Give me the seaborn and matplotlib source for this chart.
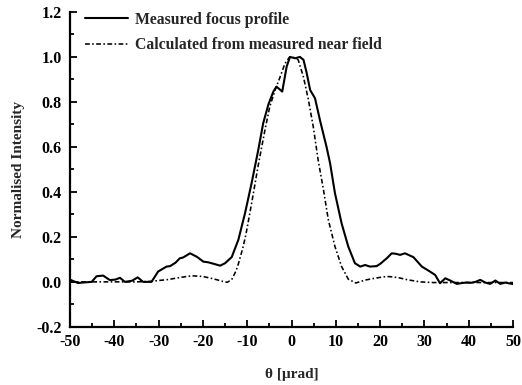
import matplotlib
matplotlib.use("Agg")
import matplotlib.pyplot as plt
from matplotlib.ticker import MultipleLocator
import seaborn as sns
import pandas as pd

# Measured far-field focus profile
theta_measured = [-50, -48.2, -46.5, -45.1, -44, -42.5, -41, -39.8, -38.7, -37.6,
                  -36, -34.7, -33.5, -31.6, -30.1, -28.2, -27.4, -26.2, -25.2, -24.5,
                  -22.9, -21.4, -19.9, -18.8, -17.5, -16.1, -15.0, -13.5, -12.0, -10.5,
                  -9.0, -7.5, -6.4, -5.2, -4.1, -3.4, -2.1, -1.1, -0.35, 0.8,
                  1.9, 2.7, 3.4, 4.2, 5.3, 6.4, 7.9, 8.7, 9.8, 11.3,
                  12.8, 14.3, 15.5, 16.6, 17.7, 19.2, 20.0, 21.5, 22.6, 23.5,
                  24.5, 25.6, 27.5, 29.4, 30.9, 32.4, 33.5, 34.7, 35.8, 37.3,
                  38.5, 39.5, 40.5, 41.5, 42.6, 43.7, 44.8, 46.0, 47.1, 48.2, 50]
intensity_measured = [0.01, -0.005, -0.002, 0.0, 0.025, 0.028, 0.008, 0.01, 0.018, 0.0,
                      0.005, 0.02, 0.0, 0.0, 0.046, 0.068, 0.07, 0.085, 0.105, 0.108,
                      0.127, 0.112, 0.09, 0.087, 0.08, 0.072, 0.083, 0.11, 0.187, 0.305,
                      0.44, 0.587, 0.705, 0.79, 0.846, 0.868, 0.846, 0.957, 1.0, 0.994,
                      1.0, 0.987, 0.93, 0.853, 0.816, 0.72, 0.60, 0.527, 0.394, 0.26,
                      0.157, 0.083, 0.068, 0.075, 0.068, 0.07, 0.08, 0.105, 0.127, 0.125,
                      0.12, 0.127, 0.11, 0.068, 0.05, 0.031, -0.006, 0.016, 0.006, -0.009,
                      -0.005, -0.003, -0.004, 0.0, 0.009, -0.003, -0.009, 0.006, -0.009, -0.003, -0.01]

# Focus calculated by propagating the measured near field
theta_calculated = [-50, -45, -40, -35, -32, -28, -25, -22.5, -20, -17.5,
                    -15.5, -14.5, -13.5, -12.5, -12.0, -11.0, -10.3, -9.0, -7.5, -6.0,
                    -4.9, -3.7, -2.6, -1.5, -0.5, 0.3, 1.5, 2.7, 3.8, 4.9,
                    6.0, 7.2, 8.3, 9.8, 11.3, 12.8, 14.5, 16.6, 18.5, 20,
                    21.5, 23, 24.5, 26, 29, 32, 36, 40, 45, 50]
intensity_calculated = [0.0, 0.0, 0.0, 0.0, 0.002, 0.01, 0.02, 0.027, 0.024, 0.013,
                        0.002, -0.002, 0.01, 0.05, 0.08, 0.15, 0.21, 0.35, 0.52, 0.675,
                        0.78, 0.853, 0.91, 0.97, 0.998, 1.0, 0.987, 0.91, 0.81, 0.69,
                        0.542, 0.41, 0.276, 0.157, 0.068, 0.012, -0.005, 0.008, 0.015, 0.02,
                        0.024, 0.022, 0.017, 0.01, 0.0, -0.003, -0.003, -0.003, -0.003, -0.003]

label_measured = "Measured focus profile"
label_calculated = "Calculated from measured near field"
x_ticks = [-50, -40, -30, -20, -10, 0, 10, 20, 30, 40, 50]
y_ticks = [-0.2, 0.0, 0.2, 0.4, 0.6, 0.8, 1.0, 1.2]

sns.set_style("ticks")
plt.rcParams["font.family"] = ["Liberation Serif", "DejaVu Serif"]
plt.rcParams["font.weight"] = "bold"
plt.rcParams["axes.labelweight"] = "bold"

df_meas = pd.DataFrame({"theta": theta_measured, "intensity": intensity_measured})
df_calc = pd.DataFrame({"theta": theta_calculated, "intensity": intensity_calculated})

fig = plt.figure(figsize=(5.22, 3.85), dpi=100)
ax = fig.add_axes([0.134, 0.151, 0.849, 0.818])

sns.lineplot(data=df_meas, x="theta", y="intensity", ax=ax, color="black",
             linewidth=1.5, label=label_measured)
sns.lineplot(data=df_calc, x="theta", y="intensity", ax=ax, color="black",
             linewidth=1.15, linestyle=(0, (3, 1.5, 1, 1.5)), label=label_calculated)

ax.set_xlim(-50, 50)
ax.set_ylim(-0.2, 1.2)
ax.set_xticks(x_ticks)
ax.set_yticks(y_ticks)
ax.set_xticklabels([str(t) for t in x_ticks])
ax.set_yticklabels([f"{t:.1f}" for t in y_ticks])
ax.xaxis.set_minor_locator(MultipleLocator(5))
ax.yaxis.set_minor_locator(MultipleLocator(0.1))

ax.tick_params(which="both", direction="in", labelsize=11.5, width=1.3, color="black",
               top=False, right=False, labelcolor="black")
ax.tick_params(which="major", length=5)
ax.tick_params(which="minor", length=3)
ax.tick_params(axis="y", pad=6)
ax.tick_params(axis="x", pad=5)

for side in ("top", "right"):
    ax.spines[side].set_visible(False)
for side in ("left", "bottom"):
    ax.spines[side].set_linewidth(1.6)
    ax.spines[side].set_color("black")

ax.set_xlabel("θ [μrad]", fontsize=11, labelpad=13)
ax.set_ylabel("Normalised Intensity", fontsize=11, labelpad=8)

leg = ax.legend(loc="upper left", bbox_to_anchor=(0.035, 1.0), frameon=False,
                fontsize=11.3, handlelength=2.7, handletextpad=0.45,
                borderaxespad=0, borderpad=0, labelspacing=0.6)
for t in leg.get_texts():
    t.set_fontweight("bold")

fig.savefig("out.png", dpi=100, facecolor="white")
